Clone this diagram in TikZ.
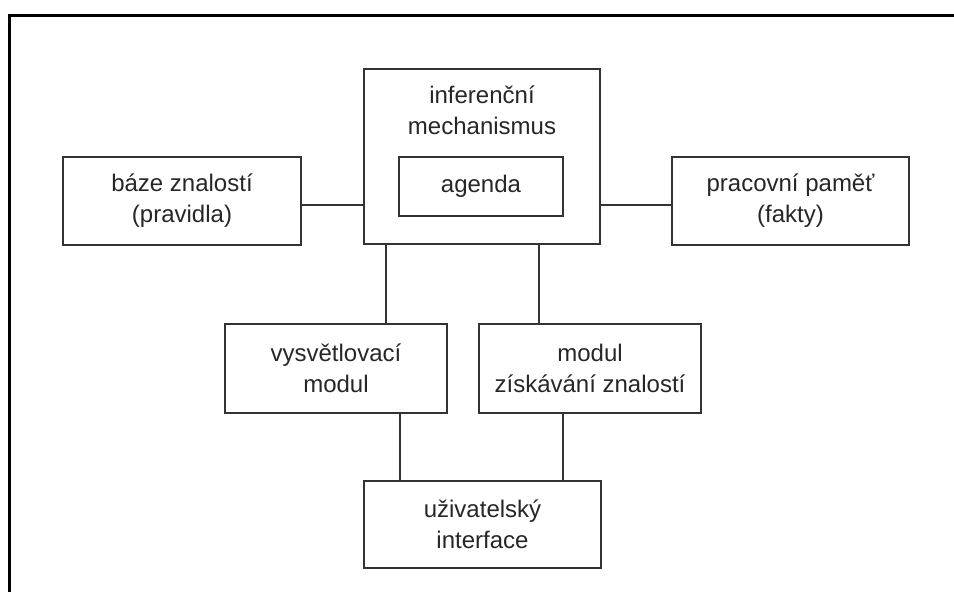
\documentclass[tikz,border=0pt]{standalone}
\usepackage{fontspec}
\setmainfont{Liberation Sans}
\begin{document}
\begin{tikzpicture}[x=1pt,y=-1pt,
  box/.style={draw=black!80, line width=1.8pt, rectangle, inner sep=0pt,
    align=center, text=black!85, font=\fontsize{24}{31}\selectfont},
  label/.style={inner sep=0pt, align=center, text=black!85,
    font=\fontsize{24}{31}\selectfont},
  link/.style={draw=black!80, line width=1.5pt}]
\useasboundingbox (0,0) rectangle (954,592);
% frame along the top and left edges
\coordinate (frameR) at (954,15);
\coordinate (frameC) at (9,15);
\coordinate (frameB) at (9,592);
\draw[line width=3pt] (frameR) -- (frameC) -- (frameB);

% inference engine with its agenda
\node[box, minimum width=236pt, minimum height=175pt] (inf) at (482,156.5) {};
\node[label] (inflabel) at (482,110) {inferenční\\mechanismus};
\node[box, minimum width=164pt, minimum height=59pt] (agenda) at (481,186.5) {agenda};

% side components
\node[box, minimum width=238pt, minimum height=88pt] (base) at (182,201) {báze znalostí\\(pravidla)};
\node[box, minimum width=237pt, minimum height=88pt] (mem) at (790.5,201) {pracovní paměť\\(fakty)};

% modules
\node[box, minimum width=222pt, minimum height=89pt] (expl) at (336,368.5) {vysvětlovací\\modul};
\node[box, minimum width=222pt, minimum height=89pt] (acq) at (590,368.5) {modul\\získávání znalostí};

% user interface
\node[box, minimum width=237pt, minimum height=87pt] (ui) at (482.5,524.5) {uživatelský\\interface};

% connections
\draw[link] ([yshift=-4pt]base.east) -- ([yshift=-4pt]base.east -| inf.west);
\draw[link] ([yshift=-4pt]mem.west) -- ([yshift=-4pt]mem.west -| inf.east);
\draw[link] ([xshift=50pt]expl.north) -- ([xshift=50pt]expl.north |- inf.south);
\draw[link] ([xshift=-51pt]acq.north) -- ([xshift=-51pt]acq.north |- inf.south);
\draw[link] ([xshift=64pt]expl.south) -- ([xshift=64pt]expl.south |- ui.north);
\draw[link] ([xshift=-27pt]acq.south) -- ([xshift=-27pt]acq.south |- ui.north);
\end{tikzpicture}
\end{document}
